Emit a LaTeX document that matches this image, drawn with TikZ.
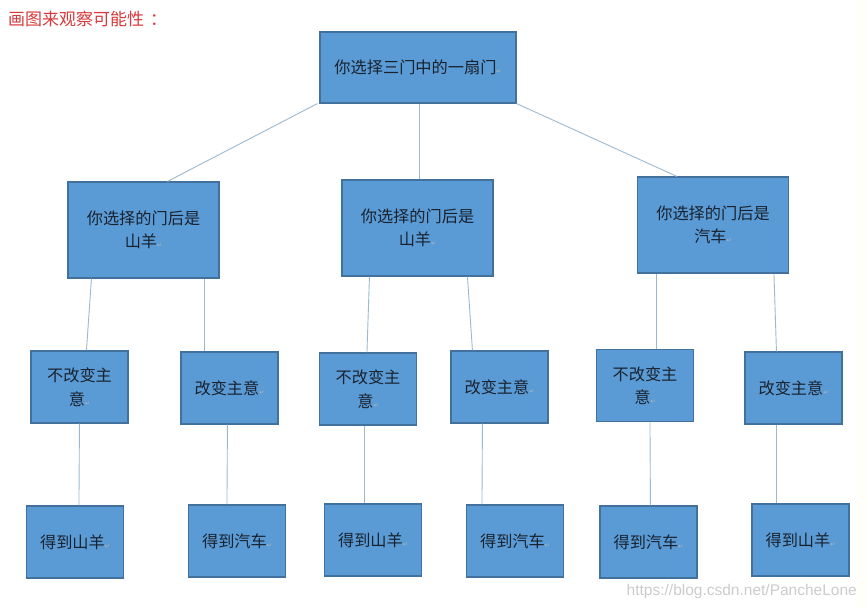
\documentclass[tikz,border=0pt]{standalone}
\usepackage{fontspec}
\usetikzlibrary{calc}
\setmainfont{Noto Sans CJK SC}
\newfontfamily\dejavu{DejaVu Sans}
\newfontfamily\wmfont{Liberation Sans}
\definecolor{boxfill}{HTML}{5B9BD5}
\definecolor{boxline}{HTML}{41719C}
\definecolor{linkcol}{HTML}{9CB9CF}
\definecolor{txtcol}{HTML}{18222F}
\definecolor{titlered}{HTML}{D8393B}
\newcommand\retmark{{\dejavu\fontsize{6}{6}\selectfont\textcolor{gray!55}{↵}}}
\tikzset{
  box/.style={draw=boxline, line width=1.1pt, fill=boxfill, text=txtcol,
    font=\fontsize{16.2}{23.5}\selectfont, align=center, inner sep=0pt},
  lvla/.style={box, minimum width=196pt, minimum height=71pt},
  lvlb/.style={box, minimum width=151pt, minimum height=96pt},
  lvlc/.style={box, minimum width=97pt, minimum height=72pt},
  link/.style={draw=linkcol, line width=0.9pt}
}
\begin{document}
\begin{tikzpicture}[x=1pt,y=-1pt]
\useasboundingbox (0,0) rectangle (867,608);
\fill[white] (0,0) rectangle (867,608);
\fill[black!3!yellow!2!white] (856,0) rectangle (867,608);
\node[anchor=west, text=titlered, font=\fontsize{17}{17}\selectfont, inner sep=0pt] (title) at (8,19) {画图来观察可能性\hspace{6pt}：};

\node[lvla] (top) at (418,67.5) {你选择三门中的一扇门\retmark};

\node[lvlb] (A) at (143.5,230) {你选择的门后是\\山羊\retmark};
\node[lvlb] (B) at (417.5,228) {你选择的门后是\\山羊\retmark};
\node[lvlb] (C) at (713,225) {你选择的门后是\\汽车\retmark};

\node[lvlc] (c1) at (79.5,387) {不改变主\\意\retmark};
\node[lvlc] (c2) at (229.5,388) {改变主意\retmark};
\node[lvlc] (c3) at (368,389) {不改变主\\意\retmark};
\node[lvlc] (c4) at (499.5,387) {改变主意\retmark};
\node[lvlc] (c5) at (645,385.5) {不改变主\\意\retmark};
\node[lvlc] (c6) at (793.5,388) {改变主意\retmark};

\node[lvlc] (d1) at (75,542) {得到山羊\retmark};
\node[lvlc] (d2) at (237,541) {得到汽车\retmark};
\node[lvlc] (d3) at (373,540) {得到山羊\retmark};
\node[lvlc] (d4) at (515,541) {得到汽车\retmark};
\node[lvlc] (d5) at (648.5,542) {得到汽车\retmark};
\node[lvlc] (d6) at (800.5,540) {得到山羊\retmark};

% level 1 -> 2
\draw[link] ($(top.south west)+(-2,0)$) -- ($(A.north west)+(100,0)$);
\draw[link] ($(top.south west)+(100,0)$) -- ($(B.north west)+(78,0)$);
\draw[link] (top.south east) -- ($(C.north west)+(40,0)$);
% level 2 -> 3
\draw[link] ($(A.south west)+(24,0)$) -- ($(c1.north west)+(56,0)$);
\draw[link] ($(A.south west)+(137,0)$) -- ($(c2.north west)+(24,0)$);
\draw[link] ($(B.south west)+(28,0)$) -- ($(c3.north west)+(48,0)$);
\draw[link] ($(B.south west)+(126,0)$) -- ($(c4.north west)+(22,0)$);
\draw[link] ($(C.south west)+(19,0)$) -- ($(c5.north west)+(60,0)$);
\draw[link] ($(C.south west)+(137,0)$) -- ($(c6.north west)+(32,0)$);
% level 3 -> 4
\draw[link] ($(c1.south west)+(49,0)$) -- ($(d1.north west)+(53,0)$);
\draw[link] ($(c2.south west)+(47,0)$) -- ($(d2.north west)+(39,0)$);
\draw[link] ($(c3.south west)+(45,0)$) -- ($(d3.north west)+(40,0)$);
\draw[link] ($(c4.south west)+(32,0)$) -- ($(d4.north west)+(16,0)$);
\draw[link] ($(c5.south west)+(54,0)$) -- ($(d5.north west)+(51,0)$);
\draw[link] ($(c6.south west)+(32,0)$) -- ($(d6.north west)+(25,0)$);

\node[anchor=east, text=black!20, font=\wmfont\fontsize{15.5}{16}\selectfont, inner sep=0pt] (wm) at (857,591) {https://blog.csdn.net/PancheLone};
\end{tikzpicture}
\end{document}
